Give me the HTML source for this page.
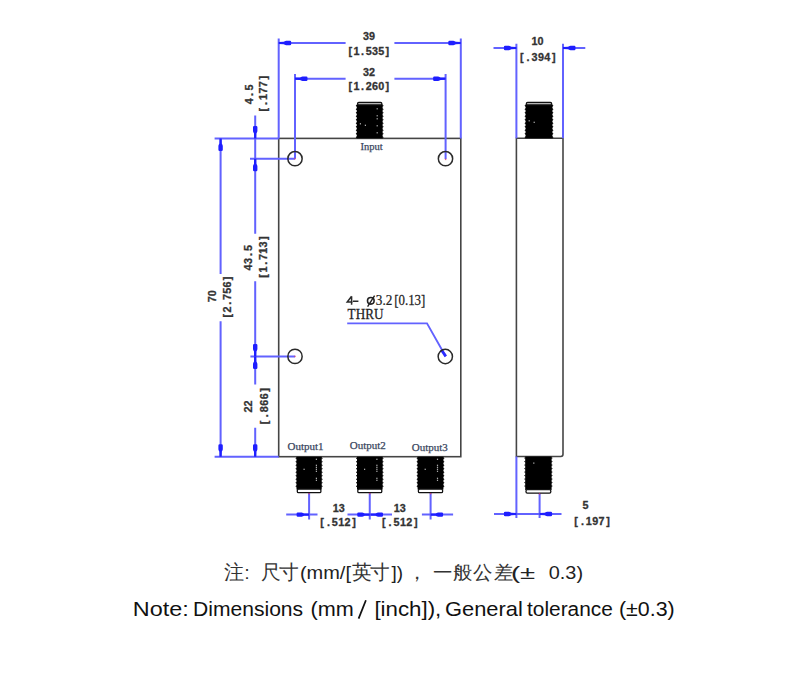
<!DOCTYPE html>
<html><head><meta charset="utf-8">
<style>
html,body{margin:0;padding:0;background:#fff;width:800px;height:692px;overflow:hidden}
svg{position:absolute;left:0;top:0}
.note{position:absolute;white-space:pre;font-family:"Liberation Sans",sans-serif;color:#111}
</style></head><body>
<svg width="800" height="692" viewBox="0 0 800 692">
<defs>
<path id="ar" d="M0,-1.1 L-5,-1.2 C-5.8,-1.3 -6.3,-2.2 -7.5,-2.2 L-11.3,-2.2 Q-12.5,-2.2 -12.5,-1 L-12.5,1 Q-12.5,2.2 -11.3,2.2 L-7.5,2.2 C-6.3,2.2 -5.8,1.3 -5,1.2 L0,1.1 Z" fill="#1e1eff"/>
</defs>
<!-- bodies -->
<g stroke="#454545" stroke-width="1.6" fill="none">
<rect x="278.7" y="138.4" width="182.1" height="318.3"/>
<path d="M516.4,138.3H563V454.3Q563,456.5 560.8,456.5H516.4Z"/>
</g>
<g id="dims" stroke="#6262ff" stroke-width="2" fill="none">
<!-- 39 -->
<path d="M278.7,38.5V138.4 M460.8,38.5V138.4 M278.7,43H345.6 M394.4,43H460.8"/>
<!-- 32 -->
<path d="M295,74V158.7 M445.6,74V159 M295,78.7H345.6 M394.4,78.7H445.6"/>
<!-- left ext -->
<path d="M214.6,138.4H278.7 M214.6,456.7H278.7 M250,158.7H295 M250.4,356.4H295"/>
<!-- 70 -->
<path d="M220.6,138.4V273.9 M220.6,321.3V456.7"/>
<!-- 4.5/43.5/22 -->
<path d="M255.2,115.5V138.4 M255.2,138.4V233.7 M255.2,281.2V384.4 M255.2,427.8V456.7"/>
<!-- side 10 -->
<path d="M516.4,43.7V138.3 M563,43.7V138.3 M493.5,48H516.4 M563,48H585.3"/>
<!-- side 5 -->
<path d="M516.4,456.5V518 M539.6,493V518 M494,514H561.5"/>
<!-- bottom 13 -->
<path d="M309.1,493V519.4 M369.75,493V519.4 M430.6,493V519.4 M286.2,514.6H317.5 M347.5,514.6H392 M421.9,514.6H453.1"/>
<!-- leader -->
<path d="M347.2,323.4H427L445.6,356.2" stroke-width="1.9"/>
<path d="M441.3,349.8L445.8,356.4" stroke="#2a2aff" stroke-width="2.8"/>
</g>
<g id="arrows">
<use href="#ar" transform="translate(278.7,43) rotate(180)"/>
<use href="#ar" transform="translate(460.8,43)"/>
<use href="#ar" transform="translate(295,78.7) rotate(180)"/>
<use href="#ar" transform="translate(445.6,78.7)"/>
<use href="#ar" transform="translate(220.6,138.4) rotate(-90)"/>
<use href="#ar" transform="translate(220.6,456.7) rotate(90)"/>
<use href="#ar" transform="translate(255.2,138.4) rotate(90)"/>
<use href="#ar" transform="translate(255.2,158.7) rotate(-90)"/>
<use href="#ar" transform="translate(255.2,356.4) rotate(90)"/>
<use href="#ar" transform="translate(255.2,356.4) rotate(-90)"/>
<use href="#ar" transform="translate(255.2,456.7) rotate(90)"/>
<use href="#ar" transform="translate(516.4,48)"/>
<use href="#ar" transform="translate(563,48) rotate(180)"/>
<use href="#ar" transform="translate(516.4,514)"/>
<use href="#ar" transform="translate(539.6,514) rotate(180)"/>
<use href="#ar" transform="translate(309.1,514.6)"/>
<use href="#ar" transform="translate(369.75,514.6)"/>
<use href="#ar" transform="translate(370.5,514.6) rotate(180)"/>
<use href="#ar" transform="translate(430.6,514.6) rotate(180)"/>
</g>
<!-- holes -->
<g stroke="#2a2a2a" stroke-width="1.5" fill="none">
<circle cx="295" cy="158.7" r="7.15"/>
<circle cx="445.5" cy="158.7" r="7.15"/>
<circle cx="295" cy="356.4" r="7.15"/>
<circle cx="445.3" cy="356.5" r="7.15"/>
</g>
<!-- connectors -->
<rect x="356.80" y="104.20" width="25.80" height="34.20" fill="#000"/>
<path d="M357.10,104.60L355.70,105.80L357.10,107.00ZM382.30,104.60L383.70,105.80L382.30,107.00ZM357.10,108.10L355.70,109.30L357.10,110.50ZM382.30,108.10L383.70,109.30L382.30,110.50ZM357.10,111.60L355.70,112.80L357.10,114.00ZM382.30,111.60L383.70,112.80L382.30,114.00ZM357.10,115.10L355.70,116.30L357.10,117.50ZM382.30,115.10L383.70,116.30L382.30,117.50ZM357.10,118.60L355.70,119.80L357.10,121.00ZM382.30,118.60L383.70,119.80L382.30,121.00ZM357.10,122.10L355.70,123.30L357.10,124.50ZM382.30,122.10L383.70,123.30L382.30,124.50ZM357.10,125.60L355.70,126.80L357.10,128.00ZM382.30,125.60L383.70,126.80L382.30,128.00ZM357.10,129.10L355.70,130.30L357.10,131.50ZM382.30,129.10L383.70,130.30L382.30,131.50ZM357.10,132.60L355.70,133.80L357.10,135.00ZM382.30,132.60L383.70,133.80L382.30,135.00ZM357.10,136.10L355.70,137.30L357.10,138.50ZM382.30,136.10L383.70,137.30L382.30,138.50Z" fill="#000"/>
<rect x="357.60" y="102.30" width="24.20" height="2.6" rx="1.2" fill="#b4b4b4" stroke="#111" stroke-width="1.3"/>
<rect x="376.60" y="108.20" width="1.2" height="1.2" fill="#bbb"/>
<rect x="376.60" y="115.20" width="1.2" height="1.2" fill="#bbb"/>
<rect x="376.60" y="118.20" width="1.2" height="1.2" fill="#bbb"/>
<rect x="376.60" y="125.20" width="1.2" height="1.2" fill="#bbb"/>
<rect x="376.60" y="132.20" width="1.2" height="1.2" fill="#bbb"/>
<rect x="359.80" y="123.20" width="1.2" height="1.2" fill="#bbb"/>
<rect x="364.80" y="124.70" width="1.2" height="1.2" fill="#bbb"/>
<rect x="525.60" y="104.20" width="26.80" height="34.10" fill="#000"/>
<path d="M525.90,104.60L524.50,105.80L525.90,107.00ZM552.10,104.60L553.50,105.80L552.10,107.00ZM525.90,108.10L524.50,109.30L525.90,110.50ZM552.10,108.10L553.50,109.30L552.10,110.50ZM525.90,111.60L524.50,112.80L525.90,114.00ZM552.10,111.60L553.50,112.80L552.10,114.00ZM525.90,115.10L524.50,116.30L525.90,117.50ZM552.10,115.10L553.50,116.30L552.10,117.50ZM525.90,118.60L524.50,119.80L525.90,121.00ZM552.10,118.60L553.50,119.80L552.10,121.00ZM525.90,122.10L524.50,123.30L525.90,124.50ZM552.10,122.10L553.50,123.30L552.10,124.50ZM525.90,125.60L524.50,126.80L525.90,128.00ZM552.10,125.60L553.50,126.80L552.10,128.00ZM525.90,129.10L524.50,130.30L525.90,131.50ZM552.10,129.10L553.50,130.30L552.10,131.50ZM525.90,132.60L524.50,133.80L525.90,135.00ZM552.10,132.60L553.50,133.80L552.10,135.00ZM525.90,136.10L524.50,137.30L525.90,138.50ZM552.10,136.10L553.50,137.30L552.10,138.50Z" fill="#000"/>
<rect x="526.40" y="102.30" width="25.20" height="2.6" rx="1.2" fill="#b4b4b4" stroke="#111" stroke-width="1.3"/>
<rect x="528.60" y="120.20" width="1.2" height="1.2" fill="#bbb"/>
<rect x="533.60" y="121.70" width="1.2" height="1.2" fill="#bbb"/>
<rect x="296.50" y="456.70" width="25.20" height="32.90" fill="#000"/>
<path d="M296.80,457.10L295.40,458.30L296.80,459.50ZM321.40,457.10L322.80,458.30L321.40,459.50ZM296.80,460.60L295.40,461.80L296.80,463.00ZM321.40,460.60L322.80,461.80L321.40,463.00ZM296.80,464.10L295.40,465.30L296.80,466.50ZM321.40,464.10L322.80,465.30L321.40,466.50ZM296.80,467.60L295.40,468.80L296.80,470.00ZM321.40,467.60L322.80,468.80L321.40,470.00ZM296.80,471.10L295.40,472.30L296.80,473.50ZM321.40,471.10L322.80,472.30L321.40,473.50ZM296.80,474.60L295.40,475.80L296.80,477.00ZM321.40,474.60L322.80,475.80L321.40,477.00ZM296.80,478.10L295.40,479.30L296.80,480.50ZM321.40,478.10L322.80,479.30L321.40,480.50ZM296.80,481.60L295.40,482.80L296.80,484.00ZM321.40,481.60L322.80,482.80L321.40,484.00ZM296.80,485.10L295.40,486.30L296.80,487.50ZM321.40,485.10L322.80,486.30L321.40,487.50Z" fill="#000"/>
<rect x="297.30" y="489.20" width="23.60" height="3.5" rx="1.3" fill="#fff" stroke="#111" stroke-width="1.3"/>
<rect x="315.80" y="458.70" width="1.2" height="1.2" fill="#bbb"/>
<rect x="315.80" y="464.70" width="1.2" height="1.2" fill="#bbb"/>
<rect x="315.80" y="466.70" width="1.2" height="1.2" fill="#bbb"/>
<rect x="315.80" y="468.70" width="1.2" height="1.2" fill="#bbb"/>
<rect x="315.80" y="470.70" width="1.2" height="1.2" fill="#bbb"/>
<rect x="315.80" y="477.70" width="1.2" height="1.2" fill="#bbb"/>
<rect x="315.80" y="479.70" width="1.2" height="1.2" fill="#bbb"/>
<rect x="303.50" y="468.70" width="1.2" height="1.2" fill="#bbb"/>
<rect x="357.00" y="456.70" width="25.60" height="32.90" fill="#000"/>
<path d="M357.30,457.10L355.90,458.30L357.30,459.50ZM382.30,457.10L383.70,458.30L382.30,459.50ZM357.30,460.60L355.90,461.80L357.30,463.00ZM382.30,460.60L383.70,461.80L382.30,463.00ZM357.30,464.10L355.90,465.30L357.30,466.50ZM382.30,464.10L383.70,465.30L382.30,466.50ZM357.30,467.60L355.90,468.80L357.30,470.00ZM382.30,467.60L383.70,468.80L382.30,470.00ZM357.30,471.10L355.90,472.30L357.30,473.50ZM382.30,471.10L383.70,472.30L382.30,473.50ZM357.30,474.60L355.90,475.80L357.30,477.00ZM382.30,474.60L383.70,475.80L382.30,477.00ZM357.30,478.10L355.90,479.30L357.30,480.50ZM382.30,478.10L383.70,479.30L382.30,480.50ZM357.30,481.60L355.90,482.80L357.30,484.00ZM382.30,481.60L383.70,482.80L382.30,484.00ZM357.30,485.10L355.90,486.30L357.30,487.50ZM382.30,485.10L383.70,486.30L382.30,487.50Z" fill="#000"/>
<rect x="357.80" y="489.20" width="24.00" height="3.5" rx="1.3" fill="#fff" stroke="#111" stroke-width="1.3"/>
<rect x="376.30" y="458.70" width="1.2" height="1.2" fill="#bbb"/>
<rect x="376.30" y="464.70" width="1.2" height="1.2" fill="#bbb"/>
<rect x="376.30" y="466.70" width="1.2" height="1.2" fill="#bbb"/>
<rect x="376.30" y="468.70" width="1.2" height="1.2" fill="#bbb"/>
<rect x="376.30" y="470.70" width="1.2" height="1.2" fill="#bbb"/>
<rect x="376.30" y="477.70" width="1.2" height="1.2" fill="#bbb"/>
<rect x="376.30" y="479.70" width="1.2" height="1.2" fill="#bbb"/>
<rect x="364.00" y="468.70" width="1.2" height="1.2" fill="#bbb"/>
<rect x="417.60" y="456.70" width="25.80" height="32.90" fill="#000"/>
<path d="M417.90,457.10L416.50,458.30L417.90,459.50ZM443.10,457.10L444.50,458.30L443.10,459.50ZM417.90,460.60L416.50,461.80L417.90,463.00ZM443.10,460.60L444.50,461.80L443.10,463.00ZM417.90,464.10L416.50,465.30L417.90,466.50ZM443.10,464.10L444.50,465.30L443.10,466.50ZM417.90,467.60L416.50,468.80L417.90,470.00ZM443.10,467.60L444.50,468.80L443.10,470.00ZM417.90,471.10L416.50,472.30L417.90,473.50ZM443.10,471.10L444.50,472.30L443.10,473.50ZM417.90,474.60L416.50,475.80L417.90,477.00ZM443.10,474.60L444.50,475.80L443.10,477.00ZM417.90,478.10L416.50,479.30L417.90,480.50ZM443.10,478.10L444.50,479.30L443.10,480.50ZM417.90,481.60L416.50,482.80L417.90,484.00ZM443.10,481.60L444.50,482.80L443.10,484.00ZM417.90,485.10L416.50,486.30L417.90,487.50ZM443.10,485.10L444.50,486.30L443.10,487.50Z" fill="#000"/>
<rect x="418.40" y="489.20" width="24.20" height="3.5" rx="1.3" fill="#fff" stroke="#111" stroke-width="1.3"/>
<rect x="436.90" y="458.70" width="1.2" height="1.2" fill="#bbb"/>
<rect x="436.90" y="464.70" width="1.2" height="1.2" fill="#bbb"/>
<rect x="436.90" y="466.70" width="1.2" height="1.2" fill="#bbb"/>
<rect x="436.90" y="468.70" width="1.2" height="1.2" fill="#bbb"/>
<rect x="436.90" y="470.70" width="1.2" height="1.2" fill="#bbb"/>
<rect x="436.90" y="477.70" width="1.2" height="1.2" fill="#bbb"/>
<rect x="436.90" y="479.70" width="1.2" height="1.2" fill="#bbb"/>
<rect x="424.60" y="468.70" width="1.2" height="1.2" fill="#bbb"/>
<rect x="525.20" y="456.50" width="26.40" height="33.50" fill="#000"/>
<path d="M525.50,456.90L524.10,458.10L525.50,459.30ZM551.30,456.90L552.70,458.10L551.30,459.30ZM525.50,460.40L524.10,461.60L525.50,462.80ZM551.30,460.40L552.70,461.60L551.30,462.80ZM525.50,463.90L524.10,465.10L525.50,466.30ZM551.30,463.90L552.70,465.10L551.30,466.30ZM525.50,467.40L524.10,468.60L525.50,469.80ZM551.30,467.40L552.70,468.60L551.30,469.80ZM525.50,470.90L524.10,472.10L525.50,473.30ZM551.30,470.90L552.70,472.10L551.30,473.30ZM525.50,474.40L524.10,475.60L525.50,476.80ZM551.30,474.40L552.70,475.60L551.30,476.80ZM525.50,477.90L524.10,479.10L525.50,480.30ZM551.30,477.90L552.70,479.10L551.30,480.30ZM525.50,481.40L524.10,482.60L525.50,483.80ZM551.30,481.40L552.70,482.60L551.30,483.80ZM525.50,484.90L524.10,486.10L525.50,487.30ZM551.30,484.90L552.70,486.10L551.30,487.30Z" fill="#000"/>
<rect x="526.00" y="489.60" width="24.80" height="3.5" rx="1.3" fill="#fff" stroke="#111" stroke-width="1.3"/>
<rect x="533.20" y="462.50" width="1.2" height="1.2" fill="#bbb"/>
<!-- dimension text -->
<g font-family="Liberation Sans" font-size="10.8" fill="#333" stroke="#333" stroke-width="0.3" text-anchor="middle" font-weight="bold">
<text transform="translate(368.9,40) scale(1,1.0)" x="-3.00 3.00" y="0">39</text>
<text transform="translate(368.8,54.8) scale(1,1.0)" x="-18.60 -12.40 -6.20 0.00 6.20 12.40 18.60" y="0">[1.535]</text>
<text transform="translate(369,75.6) scale(1,1.0)" x="-3.00 3.00" y="0">32</text>
<text transform="translate(368.8,89.6) scale(1,1.0)" x="-18.60 -12.40 -6.20 0.00 6.20 12.40 18.60" y="0">[1.260]</text>
<text transform="translate(537.6,45) scale(1,1.0)" x="-3.00 3.00" y="0">10</text>
<text transform="translate(537.7,60.8) scale(1,1.0)" x="-16.00 -9.60 -3.20 3.20 9.60 16.00" y="0">[.394]</text>
<text transform="translate(338.75,511.8) scale(1,1.0)" x="-3.00 3.00" y="0">13</text>
<text transform="translate(338,525.6) scale(1,1.0)" x="-16.00 -9.60 -3.20 3.20 9.60 16.00" y="0">[.512]</text>
<text transform="translate(399.7,511.8) scale(1,1.0)" x="-3.00 3.00" y="0">13</text>
<text transform="translate(399.7,525.6) scale(1,1.0)" x="-16.00 -9.60 -3.20 3.20 9.60 16.00" y="0">[.512]</text>
<text transform="translate(585.5,509.0) scale(1,1.0)" x="0.00" y="0">5</text>
<text transform="translate(592,525.0) scale(1,1.0)" x="-16.00 -9.60 -3.20 3.20 9.60 16.00" y="0">[.197]</text>
<text transform="translate(216.2,296.25) rotate(-90) scale(1,1.0)" x="-3.00 3.00" y="0">70</text>
<text transform="translate(231.0,297) rotate(-90) scale(1,1.0)" x="-18.60 -12.40 -6.20 0.00 6.20 12.40 18.60" y="0">[2.756]</text>
<text transform="translate(252.5,94.4) rotate(-90) scale(1,1.0)" x="-6.80 0.00 6.80" y="0">4.5</text>
<text transform="translate(267.4,93.8) rotate(-90) scale(1,1.0)" x="-16.00 -9.60 -3.20 3.20 9.60 16.00" y="0">[.177]</text>
<text transform="translate(252.1,257.7) rotate(-90) scale(1,1.0)" x="-9.75 -3.25 3.25 9.75" y="0">43.5</text>
<text transform="translate(267.4,257) rotate(-90) scale(1,1.0)" x="-18.90 -12.60 -6.30 0.00 6.30 12.60 18.90" y="0">[1.713]</text>
<text transform="translate(251.9,406.5) rotate(-90) scale(1,1.0)" x="-3.00 3.00" y="0">22</text>
<text transform="translate(267.8,406.1) rotate(-90) scale(1,1.0)" x="-16.25 -9.75 -3.25 3.25 9.75 16.25" y="0">[.866]</text>
</g>
<g font-family="Liberation Serif" fill="#3a4660" stroke="#3a4660" stroke-width="0.25">
<text x="360.4" y="150" font-size="10.5">Input</text>
<text x="287.5" y="450.3" font-size="11">Output1</text>
<text x="349.75" y="449.3" font-size="11">Output2</text>
<text x="411.7" y="450.8" font-size="11">Output3</text>
</g>
<path d="M351.6,296.2 L347.2,302 H352.6 M351.6,296.2 V304.8 M353,301.2 H358.4" stroke="#2a2a2a" stroke-width="1.5" fill="none"/>
<path d="M367.6,306.6L374.6,295.6" stroke="#222" stroke-width="1.4" fill="none"/>
<circle cx="370.8" cy="300.8" r="3.3" stroke="#222" stroke-width="1.6" fill="none"/>
<g font-family="Liberation Serif" fill="#222" font-size="13" stroke="#222" stroke-width="0.25">
<text id="n1" transform="translate(375.8,305.4) scale(0.88,1)" font-size="15">3.2</text>
<text id="n2" transform="translate(394.2,305.4) scale(0.86,1)" font-size="15">[0.13]</text>
<text id="n3" transform="translate(347.6,318.9) scale(0.94,1.02)" font-size="14">THRU</text>
</g>
<g><rect x="294.3" y="158.0" width="1.4" height="1.4" fill="#e04060" opacity="0.8"/><rect x="444.9" y="158.7" width="1.4" height="1.4" fill="#e04060" opacity="0.8"/><rect x="294.3" y="355.7" width="1.4" height="1.4" fill="#e04060" opacity="0.8"/><rect x="308.4" y="492.9" width="1.4" height="1.4" fill="#e04060" opacity="0.8"/><rect x="369.1" y="492.9" width="1.4" height="1.4" fill="#e04060" opacity="0.8"/><rect x="429.9" y="492.9" width="1.4" height="1.4" fill="#e04060" opacity="0.8"/><rect x="538.9" y="493.2" width="1.4" height="1.4" fill="#e04060" opacity="0.8"/></g>
<g font-family="Liberation Sans" style="white-space:pre">
<text id="en0" transform="translate(132.77,615.8) scale(1.1141,1)" font-size="21" fill="#111">Note:</text>
<text id="en1" transform="translate(192.99,615.8) scale(1.0047,1)" font-size="21" fill="#111">Dimensions</text>
<text id="en2" transform="translate(310.48,615.8) scale(1.0312,1)" font-size="21" fill="#111">(mm</text>
<text id="en3" transform="translate(374.39,615.8) scale(1.0625,1)" font-size="21" fill="#111">[inch]),</text>
<text id="en4" transform="translate(444.96,615.8) scale(1.0417,1)" font-size="21" fill="#111">General</text>
<text id="en5" transform="translate(527.00,615.8) scale(0.9942,1)" font-size="21" fill="#111">tolerance</text>
<text id="en6" transform="translate(618.98,615.8) scale(1.0189,1)" font-size="21" fill="#111">(±0.3)</text>
<text id="cn0" transform="translate(223.99,579.2) scale(1.0056,1)" font-size="19.5" fill="#333">注</text>
<text id="cn1" transform="translate(244.60,579.2) scale(1.0000,1)" font-size="18" fill="#222">:</text>
<text id="cn2" transform="translate(260.51,579.2) scale(0.9868,1)" font-size="19.5" fill="#333">尺寸</text>
<text id="cn3" transform="translate(299.89,579.2) scale(1.1111,1)" font-size="18" fill="#222">(mm/[</text>
<text id="cn4" transform="translate(351.50,579.2) scale(0.9808,1)" font-size="19.5" fill="#333">英寸</text>
<text id="cn5" transform="translate(391.49,579.2) scale(1.0500,1)" font-size="18" fill="#222">])</text>
<text id="cn6" transform="translate(407.00,579.2) scale(1.0000,1)" font-size="19.5" fill="#333">，</text>
<text id="cn7" transform="translate(432.97,579.2) scale(1.0192,1)" font-size="19.5" fill="#333">一般公差</text>
<text id="cn8" transform="translate(510.95,579.2) scale(1.5286,1)" font-size="18" fill="#222">(±</text>
<text id="cn9" transform="translate(548.74,579.2) scale(1.1067,1)" font-size="18" fill="#222">0.3)</text>
<path d="M358.6,618.6L365.9,600.2" stroke="#111" stroke-width="1.75" fill="none"/>
</g>
</svg>
</body></html>
